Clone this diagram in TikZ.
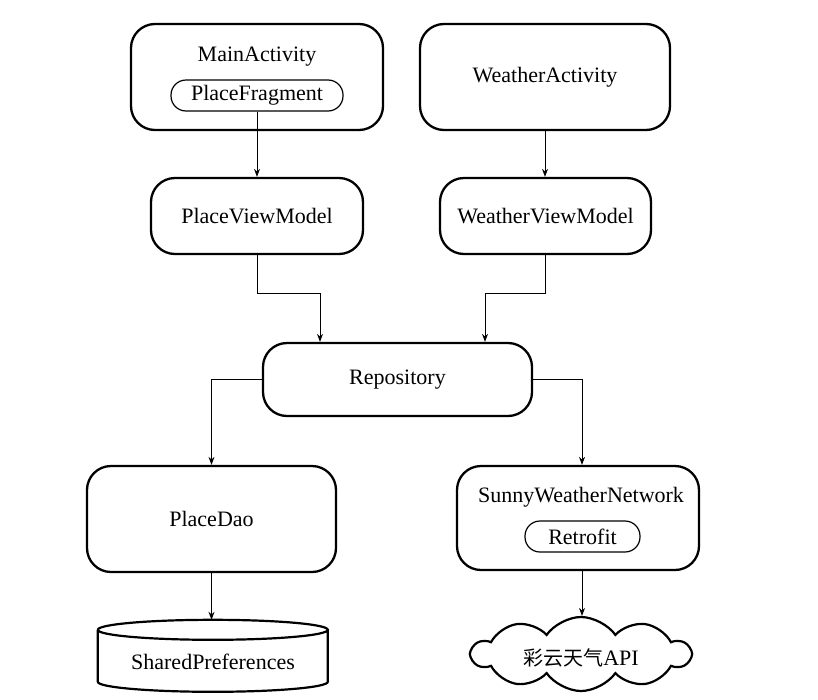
\documentclass[tikz,border=0pt]{standalone}
\usepackage{fontspec}
\setmainfont{Liberation Serif}
\newfontfamily\cjk{Noto Sans CJK SC}
\usetikzlibrary{shapes.symbols,arrows.meta}
\begin{document}
\begin{tikzpicture}[x=1pt,y=-1pt,
  font=\fontsize{22}{26}\selectfont,
  outerbox/.style={draw, line width=2.3pt, rounded corners=24pt, inner sep=0pt},
  innerbox/.style={draw, line width=1.2pt, rounded corners=15pt, inner sep=0pt, minimum width=#1, minimum height=31pt},
  arr/.style={line width=0.9pt, -{Stealth[length=8pt,width=6pt]}},
  lbl/.style={inner sep=0pt}]
\useasboundingbox (0,0) rectangle (818,699);

% top row
\node[outerbox, minimum width=252pt, minimum height=106pt] (ma) at (257,77) {};
\node[lbl] (matxt) at (257,57) {MainActivity};
\node[innerbox=172pt] (pf) at (257,95.5) {PlaceFragment};

\node[outerbox, minimum width=250pt, minimum height=106pt] (wa) at (545,77) {WeatherActivity};

% view models
\node[outerbox, minimum width=212pt, minimum height=76pt] (pvm) at (257,216) {PlaceViewModel};
\node[outerbox, minimum width=211pt, minimum height=76pt] (wvm) at (545.5,216) {WeatherViewModel};

% repository
\node[outerbox, minimum width=269pt, minimum height=73pt] (repo) at (397.5,379.5) {Repository};

% data sources
\node[outerbox, minimum width=249pt, minimum height=106pt] (pd) at (211.5,519) {PlaceDao};
\node[outerbox, minimum width=242pt, minimum height=104pt] (swn) at (578,518) {};
\node[lbl] (swntxt) at (581,497) {SunnyWeatherNetwork};
\node[innerbox=115pt] (rf) at (582.5,536.5) {Retrofit};

% cylinder
\node[lbl, minimum width=230pt, minimum height=72pt] (sp) at (213,656) {};
\draw[line width=2.2pt]
  (sp.north west) ++(0,10) coordinate (cyltl)
  (cyltl) arc[start angle=180, end angle=540, x radius=115, y radius=10]
  (cyltl) -- ++(0,52) arc[start angle=180, end angle=0, x radius=115, y radius=10] -- ++(0,-52);
\node[lbl] (sptxt) at (213,662) {SharedPreferences};

% cloud
\node[cloud, draw, line width=2.2pt, cloud puffs=10, cloud puff arc=110, aspect=3.2,
      minimum width=218pt, minimum height=74pt, inner sep=0pt] (api) at (581,654) {};
\node[lbl] (apitxt) at (581,658) {{\cjk\fontsize{20}{24}\selectfont 彩云天气}API};

% connectors
\draw[arr] (pf.south) -- (pvm.north);
\draw[arr] (wa.south) -- (wa.south |- wvm.north);
\draw[arr] (pvm.south) -- ++(0,38) -| ([xshift=-77.5pt]repo.north);
\draw[arr] (wvm.south) -- ++(0,38) -| ([xshift=87.5pt]repo.north);
\draw[arr] (repo.west) -| (pd.north);
\draw[arr] (repo.east) -| ([xshift=4pt]swn.north);
\draw[arr] (pd.south) -- (pd.south |- sp.north);
\draw[arr] ([xshift=4pt]swn.south) -- ([xshift=4pt]swn.south |- api.north);
\end{tikzpicture}
\end{document}
